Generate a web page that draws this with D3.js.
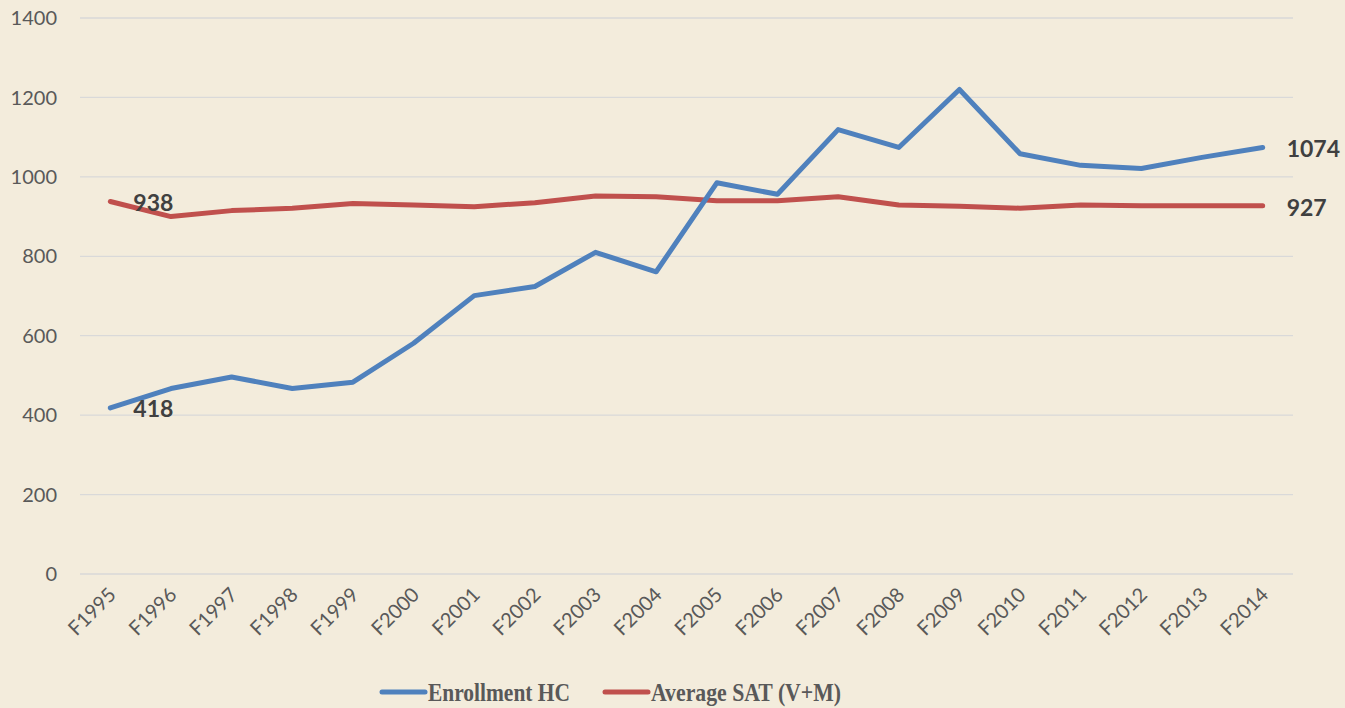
<!DOCTYPE html>
<html>
<head>
<meta charset="utf-8">
<script src="https://cdn.jsdelivr.net/npm/d3@7"></script>
<style>
  html, body { margin: 0; padding: 0; background: #f3ecdc; }
  #chart { width: 1345px; height: 708px; }
</style>
</head>
<body>
<div id="chart"></div>
<script>
const years = ["F1995","F1996","F1997","F1998","F1999","F2000","F2001","F2002","F2003","F2004",
               "F2005","F2006","F2007","F2008","F2009","F2010","F2011","F2012","F2013","F2014"];
const enrollment = [418, 467, 496, 467, 483, 581, 701, 724, 810, 761,
                    985, 956, 1119, 1074, 1220, 1058, 1029, 1021, 1049, 1074];
const sat = [938, 900, 915, 921, 933, 929, 925, 935, 952, 950,
             940, 940, 950, 929, 926, 921, 929, 927, 927, 927];
const yTicks = [0, 200, 400, 600, 800, 1000, 1200, 1400];

const W = 1345, H = 708;
const plotLeft = 80, plotRight = 1293, plotTop = 18, plotBottom = 574;

const svg = d3.select("#chart").append("svg")
    .attr("width", W)
    .attr("height", H);

svg.append("rect").attr("width", W).attr("height", H).attr("fill", "#f3ecdc");

const x = d3.scalePoint().domain(years).range([plotLeft, plotRight]).padding(0.5);
const y = d3.scaleLinear().domain([0, 1400]).range([plotBottom, plotTop]);

// gridlines
svg.append("g")
    .selectAll("line")
    .data(yTicks)
    .join("line")
    .attr("x1", plotLeft).attr("x2", plotRight)
    .attr("y1", d => y(d)).attr("y2", d => y(d))
    .attr("stroke", "#d9d9d9")
    .attr("stroke-width", 1.3);

// y axis labels
svg.append("g")
    .selectAll("text")
    .data(yTicks)
    .join("text")
    .attr("x", 57)
    .attr("y", d => y(d))
    .attr("dy", "0.36em")
    .attr("text-anchor", "end")
    .attr("font-family", "Lato, 'Open Sans', sans-serif")
    .attr("font-size", 20)
    .attr("fill", "#595959")
    .text(d => d);

// x axis labels
svg.append("g")
    .selectAll("text")
    .data(years)
    .join("text")
    .attr("transform", d => `translate(${x(d) + 7},${596}) rotate(-45)`)
    .attr("text-anchor", "end")
    .attr("font-family", "Lato, 'Open Sans', sans-serif")
    .attr("font-size", 20)
    .attr("fill", "#595959")
    .text(d => d);

const line = d3.line()
    .x((d, i) => x(years[i]))
    .y(d => y(d));

const series = [
  { name: "Enrollment HC", values: enrollment, color: "#4f81bd" },
  { name: "Average SAT (V+M)", values: sat, color: "#c0504d" }
];

// draw SAT first so enrollment crosses on top
[series[1], series[0]].forEach(s => {
  svg.append("path")
      .datum(s.values)
      .attr("d", line)
      .attr("fill", "none")
      .attr("stroke", s.color)
      .attr("stroke-width", 5)
      .attr("stroke-linejoin", "round")
      .attr("stroke-linecap", "round");
});

// data labels
const labels = [
  { i: 0, v: enrollment[0], dx: 23, dy: 9 },
  { i: 0, v: sat[0], dx: 23, dy: 10 },
  { i: years.length - 1, v: enrollment[years.length - 1], dx: 24, dy: 10 },
  { i: years.length - 1, v: sat[years.length - 1], dx: 24, dy: 10 }
];
svg.append("g")
    .selectAll("text")
    .data(labels)
    .join("text")
    .attr("x", d => x(years[d.i]) + d.dx)
    .attr("y", d => y(d.v) + d.dy)
    .attr("font-family", "Lato, 'Open Sans', sans-serif")
    .attr("font-weight", "bold")
    .attr("font-size", 23)
    .attr("fill", "#404040")
    .text(d => d.v);

// legend
const legend = svg.append("g");
const legendItems = [
  { s: series[0], x0: 382, w: 142 },
  { s: series[1], x0: 605, w: 190 }
];
legendItems.forEach(it => {
  legend.append("line")
      .attr("x1", it.x0).attr("x2", it.x0 + 43)
      .attr("y1", 692).attr("y2", 692)
      .attr("stroke", it.s.color)
      .attr("stroke-width", 5)
      .attr("stroke-linecap", "round");
  legend.append("text")
      .attr("x", it.x0 + 46)
      .attr("y", 701)
      .attr("font-family", "'Liberation Serif', 'Times New Roman', serif")
      .attr("font-weight", "bold")
      .attr("font-size", 25)
      .attr("textLength", it.w)
      .attr("lengthAdjust", "spacingAndGlyphs")
      .attr("fill", "#595959")
      .text(it.s.name);
});
</script>
</body>
</html>
